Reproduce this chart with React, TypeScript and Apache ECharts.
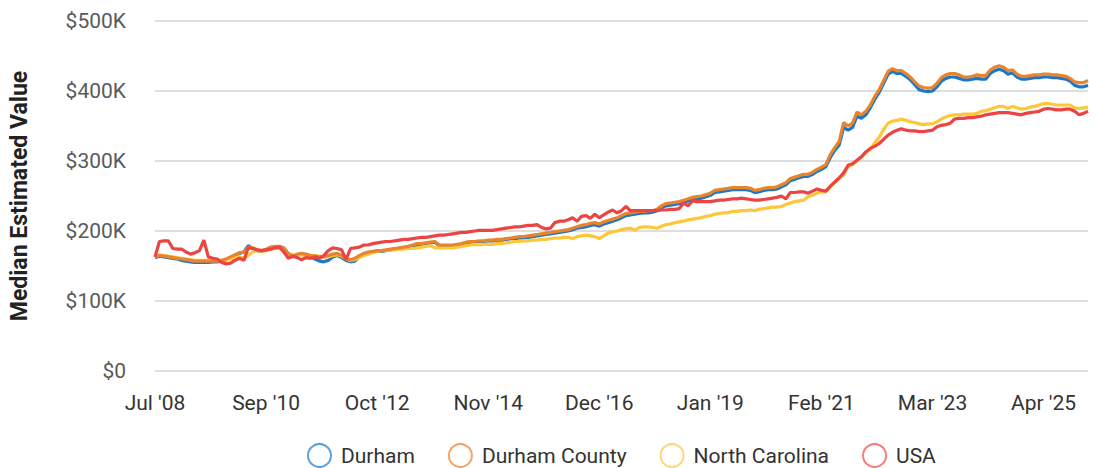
import React, { useEffect, useRef } from "react";
import * as echarts from "echarts";

const monthNames = ["Jan", "Feb", "Mar", "Apr", "May", "Jun", "Jul", "Aug", "Sep", "Oct", "Nov", "Dec"];
// Monthly points from Jul 2008 (Aug 2008 not reported)
const startYear = 2008;
const startMonth = 6; // Jul
const skippedMonths = ["Aug '08"];
const pointCount = 211;

function buildCategories(): string[] {
  const out: string[] = [];
  let y = startYear;
  let m = startMonth;
  while (out.length < pointCount) {
    const label = `${monthNames[m]} '${String(y % 100).padStart(2, "0")}`;
    if (!skippedMonths.includes(label)) out.push(label);
    m++;
    if (m > 11) { m = 0; y++; }
  }
  return out;
}
const categories = buildCategories();

const tickLabels = ["Jul '08", "Sep '10", "Oct '12", "Nov '14", "Dec '16", "Jan '19", "Feb '21", "Mar '23", "Apr '25"];
const yTicks = [0, 100000, 200000, 300000, 400000, 500000];

// values in $K
const durham = [
  162, 164, 163, 162, 161, 160, 158, 157, 156, 155, 155,
  155, 155, 156, 156, 157, 159, 162, 165, 168, 170,
  179, 175, 172, 171, 173, 176, 177, 177, 175, 167,
  163, 166, 167, 165, 163, 160, 157, 156, 158, 163,
  165, 162, 158, 156, 157, 163, 167, 169, 170, 171,
  171, 172, 173, 174, 175, 176, 177, 178, 180, 181,
  182, 183, 184, 179, 179, 179, 179, 180, 181, 183,
  184, 184, 185, 185, 186, 186, 187, 187, 188, 189,
  189, 190, 190, 191, 192, 193, 194, 195, 196, 197,
  198, 199, 200, 202, 204, 205, 206, 208, 209, 207,
  210, 212, 214, 216, 219, 222, 223, 224, 225, 226,
  226, 227, 229, 233, 236, 237, 238, 239, 241, 243,
  245, 246, 247, 249, 251, 255, 256, 257, 258, 259,
  259, 259, 259, 258, 255, 256, 258, 259, 259, 260,
  263, 266, 272, 274, 276, 278, 278, 281, 285, 288,
  292, 305, 315, 323, 348, 344, 348, 364, 361, 366,
  376, 388, 398, 411, 424, 428, 425, 425, 421, 416,
  409, 402, 400, 399, 400, 406, 414, 418, 420, 420,
  418, 416, 416, 417, 418, 417, 417, 425, 429, 431,
  429, 424, 426, 420, 417, 417, 418, 419, 419, 420,
  420, 419, 419, 418, 417, 414, 408, 406, 406, 408,
];

const durhamCounty = [
  163, 165, 164, 163, 162, 161, 160, 159, 158, 157, 157,
  157, 157, 157, 157, 158, 160, 163, 166, 169, 170,
  177, 176, 173, 172, 174, 177, 178, 178, 176, 168,
  164, 167, 168, 167, 165, 164, 163, 163, 165, 167,
  168, 165, 160, 159, 161, 165, 168, 170, 171, 172,
  172, 173, 174, 175, 176, 177, 178, 180, 182, 182,
  183, 184, 185, 180, 180, 180, 180, 181, 182, 184,
  185, 185, 186, 186, 187, 187, 188, 188, 189, 190,
  191, 192, 192, 193, 194, 195, 196, 197, 198, 199,
  200, 201, 202, 204, 206, 208, 209, 211, 212, 210,
  213, 215, 217, 219, 222, 225, 226, 227, 228, 228,
  229, 229, 231, 236, 239, 240, 241, 242, 244, 246,
  248, 249, 250, 252, 254, 258, 259, 260, 261, 262,
  262, 262, 262, 261, 258, 259, 261, 262, 262, 263,
  266, 269, 275, 277, 279, 281, 281, 284, 288, 291,
  295, 309, 319, 328, 355, 350, 354, 370, 366, 371,
  380, 392, 402, 415, 428, 432, 429, 429, 425, 420,
  413, 407, 405, 404, 405, 411, 419, 423, 425, 425,
  423, 420, 420, 421, 423, 422, 422, 430, 434, 436,
  434, 429, 430, 424, 421, 421, 422, 423, 423, 424,
  424, 423, 423, 422, 421, 418, 413, 412, 412, 415,
];

const northCarolina = [
  164, 166, 165, 164, 163, 162, 161, 160, 159, 158, 158,
  158, 158, 158, 158, 158, 159, 160, 162, 163, 161,
  165, 170, 172, 171, 172, 174, 175, 175, 174, 167,
  166, 166, 166, 165, 165, 165, 164, 163, 163, 165,
  166, 164, 160, 158, 159, 162, 165, 167, 169, 171,
  172, 172, 173, 173, 174, 174, 175, 175, 176, 177,
  178, 179, 176, 176, 176, 176, 176, 177, 178, 179,
  180, 181, 180, 181, 181, 181, 182, 182, 183, 184,
  185, 185, 186, 186, 187, 187, 188, 188, 189, 190,
  190, 191, 191, 189, 192, 193, 194, 193, 192, 189,
  193, 197, 199, 200, 202, 203, 204, 201, 205, 206,
  206, 205, 204, 207, 209, 210, 212, 213, 214, 216,
  217, 218, 219, 221, 222, 224, 225, 226, 226, 228,
  228, 229, 229, 230, 229, 231, 232, 233, 234, 234,
  235, 238, 240, 242, 243, 244, 249, 251, 254, 256,
  256, 263, 269, 275, 280, 292, 295, 300, 305, 312,
  317, 326, 334, 345, 354, 357, 358, 360, 358, 356,
  355, 353, 352, 353, 353, 356, 360, 363, 365, 366,
  366, 367, 367, 367, 368, 371, 372, 374, 376, 378,
  378, 375, 378, 376, 374, 375, 377, 378, 380, 382,
  382, 381, 380, 380, 380, 380, 376, 375, 376, 377,
];

const usa = [
  163, 185, 186, 186, 175, 174, 174, 170, 167, 169, 172,
  187, 163, 161, 160, 155, 153, 154, 158, 161, 158,
  176, 175, 173, 172, 173, 174, 176, 177, 170, 161,
  164, 162, 159, 162, 161, 163, 161, 165, 172, 176,
  175, 173, 159, 175, 176, 177, 180, 180, 182, 183,
  184, 185, 185, 186, 187, 188, 188, 189, 190, 191,
  191, 192, 193, 194, 194, 195, 196, 197, 198, 198,
  199, 200, 201, 201, 201, 201, 202, 203, 204, 205,
  206, 206, 207, 208, 208, 209, 205, 203, 204, 212,
  214, 214, 216, 219, 214, 221, 222, 218, 224, 219,
  223, 227, 230, 226, 229, 235, 229, 229, 229, 229,
  229, 229, 229, 230, 230, 231, 231, 232, 240, 236,
  243, 242, 242, 242, 242, 243, 244, 244, 245, 246,
  246, 247, 246, 245, 244, 244, 245, 246, 247, 248,
  250, 246, 255, 255, 256, 256, 254, 257, 260, 258,
  257, 264, 270, 276, 283, 294, 296, 301, 306, 313,
  318, 321, 325, 331, 337, 341, 344, 346, 344, 343,
  343, 342, 342, 343, 344, 349, 351, 352, 354, 360,
  361, 361, 362, 362, 363, 364, 366, 367, 368, 369,
  369, 369, 368, 367, 366, 368, 369, 370, 371, 374,
  375, 374, 373, 373, 374, 374, 371, 366, 368, 371,
];

const seriesNames = ["Durham", "Durham County", "North Carolina", "USA"];
const lineColors = ["#1c77c9", "#e8842c", "#fcc83a", "#ec4343"];
const legendColors = ["#5ba1df", "#f1a56a", "#fdd67a", "#f28080"];

export default function App() {
  const ref = useRef<HTMLDivElement>(null);

  useEffect(() => {
    if (!ref.current) return;
    const chart = echarts.init(ref.current, undefined, { renderer: "svg" });
    const toDollars = (arr: number[]) => arr.map((v) => v * 1000);
    const datasets = [durham, durhamCounty, northCarolina, usa];
    const drawOrder = [0, 2, 1, 3];
    chart.setOption({
      animation: false,
      textStyle: { fontFamily: "Roboto" },
      grid: { left: 155, right: 9, top: 21, bottom: 97 },
      legend: {
        left: 307,
        top: 443,
        padding: 0,
        itemWidth: 23,
        itemHeight: 23,
        itemGap: 33,
        icon: "circle",
        textStyle: { fontSize: 21, color: "#333", fontFamily: "Roboto", padding: [0, 0, 0, 5] },
        data: seriesNames.map((n, i) => ({
          name: n,
          itemStyle: { color: "#ffffff", borderColor: legendColors[i], borderWidth: 2 },
        })),
      },
      xAxis: {
        type: "category",
        boundaryGap: false,
        data: categories,
        axisLine: { show: false },
        axisTick: { show: false },
        axisLabel: {
          interval: (index: number, value: string) => tickLabels.includes(value),
          fontSize: 21,
          color: "#333",
          margin: 21,
          fontFamily: "Roboto",
        },
      },
      yAxis: {
        type: "value",
        min: yTicks[0],
        max: yTicks[yTicks.length - 1],
        interval: 100000,
        name: "Median Estimated Value",
        nameLocation: "middle",
        nameGap: 124,
        nameTextStyle: { fontSize: 23, fontWeight: "bold", color: "#222", fontFamily: "Roboto" },
        axisLine: { show: false },
        axisTick: { show: false },
        axisLabel: {
          fontSize: 21,
          color: "#5a5a5a",
          margin: 29,
          fontFamily: "Roboto",
          formatter: (v: number) => (v === 0 ? "$0" : `$${v / 1000}K`),
        },
        splitLine: { lineStyle: { color: "#d3d3d3", width: 1.5 } },
      },
      series: drawOrder.map((i) => ({
        name: seriesNames[i],
        type: "line",
        data: toDollars(datasets[i]),
        showSymbol: false,
        symbol: "none",
        itemStyle: { color: lineColors[i] },
        lineStyle: { color: lineColors[i], width: 3.2 },
      })),
    });
    return () => chart.dispose();
  }, []);

  return (
    <div
      ref={ref}
      style={{ position: "absolute", left: 0, top: 0, width: 1097, height: 468 }}
    />
  );
}
